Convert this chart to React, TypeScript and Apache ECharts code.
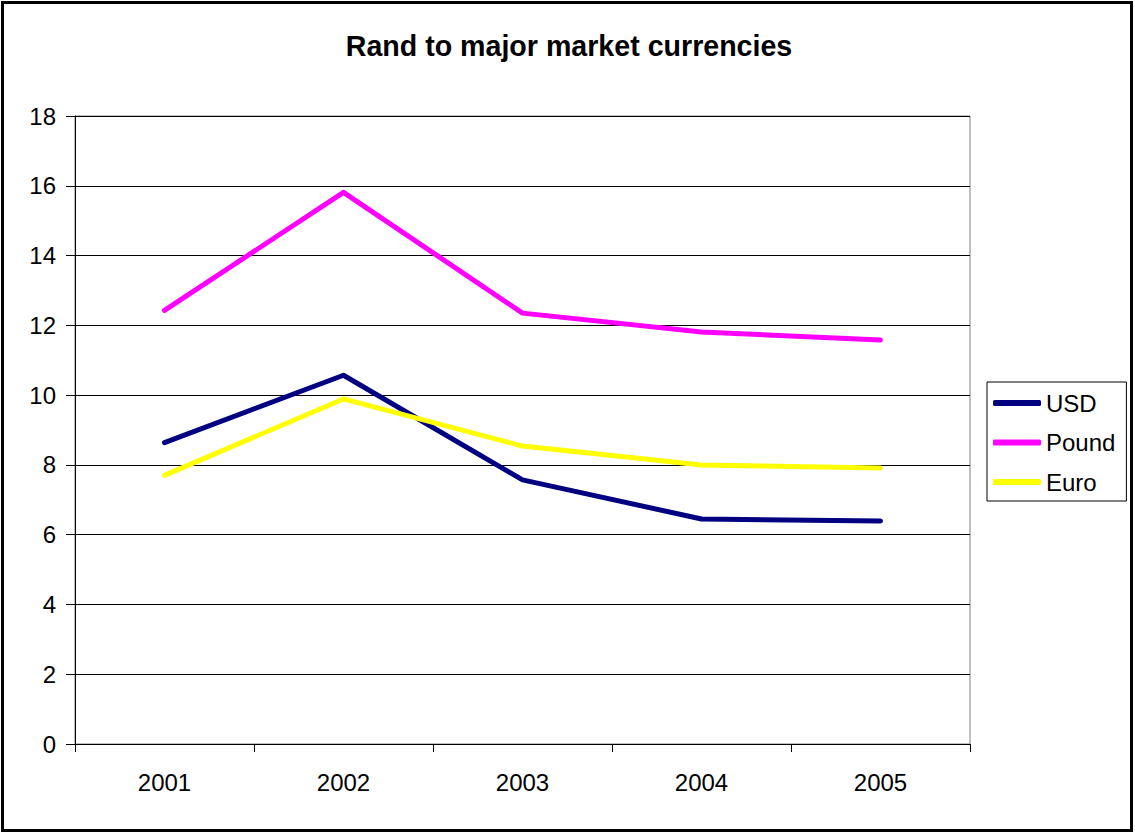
import React, { useEffect, useRef } from "react";
import * as echarts from "echarts";

const years = ["2001", "2002", "2003", "2004", "2005"];
const usd = [8.64, 10.57, 7.57, 6.45, 6.39];
const pound = [12.43, 15.81, 12.35, 11.81, 11.58];
const euro = [7.7, 9.89, 8.54, 8.0, 7.91];

export default function App() {
  const ref = useRef<HTMLDivElement>(null);
  useEffect(() => {
    if (!ref.current) return;
    const chart = echarts.init(ref.current, null, { renderer: "svg" });
    const font = "Arial, 'Liberation Sans', sans-serif";
    chart.setOption({
      animation: false,
      backgroundColor: "#ffffff",
      title: {
        text: "Rand to major market currencies",
        left: 564,
        textAlign: "center",
        top: 26,
        textStyle: { fontFamily: font, fontSize: 28.6, fontWeight: "bold", color: "#000" },
      },
      graphic: [
        {
          type: "rect",
          shape: { x: 2.5, y: 2.5, width: 1129, height: 828 },
          style: { fill: "none", stroke: "#000", lineWidth: 3 },
          silent: true,
        },
      ],
      legend: {
        orient: "vertical",
        left: 987,
        top: 382,
        padding: [9, 11, 7, 6],
        itemGap: 15.5,
        itemWidth: 48,
        itemHeight: 6,
        borderColor: "#000",
        borderWidth: 1,
        icon: "roundRect",
        textStyle: { fontFamily: font, fontSize: 24, color: "#000" },
        data: ["USD", "Pound", "Euro"],
      },
      grid: {
        left: 75,
        right: 165,
        top: 116,
        bottom: 89,
        show: true,
        borderColor: "#808080",
        borderWidth: 1,
        containLabel: false,
      },
      xAxis: {
        type: "category",
        data: years,
        boundaryGap: true,
        axisLine: { lineStyle: { color: "#000", width: 1 } },
        axisTick: { show: true, length: 8, lineStyle: { color: "#000" } },
        axisLabel: { fontFamily: font, fontSize: 24, color: "#000", margin: 26 },
      },
      yAxis: {
        type: "value",
        min: 0,
        max: 18,
        interval: 2,
        axisLine: { show: true, lineStyle: { color: "#000", width: 1 } },
        axisTick: { show: true, length: 9, lineStyle: { color: "#000" } },
        axisLabel: { fontFamily: font, fontSize: 24, color: "#000", margin: 19 },
        splitLine: { lineStyle: { color: "#000", width: 1 } },
      },
      series: [
        {
          name: "USD",
          type: "line",
          data: usd,
          symbol: "none",
          color: "#000080",
          lineStyle: { width: 5, color: "#000080", cap: "round", join: "round" },
        },
        {
          name: "Pound",
          type: "line",
          data: pound,
          symbol: "none",
          color: "#FF00FF",
          lineStyle: { width: 5, color: "#FF00FF", cap: "round", join: "round" },
        },
        {
          name: "Euro",
          type: "line",
          data: euro,
          symbol: "none",
          color: "#FFFF00",
          lineStyle: { width: 5, color: "#FFFF00", cap: "round", join: "round" },
        },
      ],
    });
    return () => chart.dispose();
  }, []);
  return (
    <div
      ref={ref}
      style={{ position: "absolute", left: 0, top: 0, width: 1135, height: 833 }}
    />
  );
}
